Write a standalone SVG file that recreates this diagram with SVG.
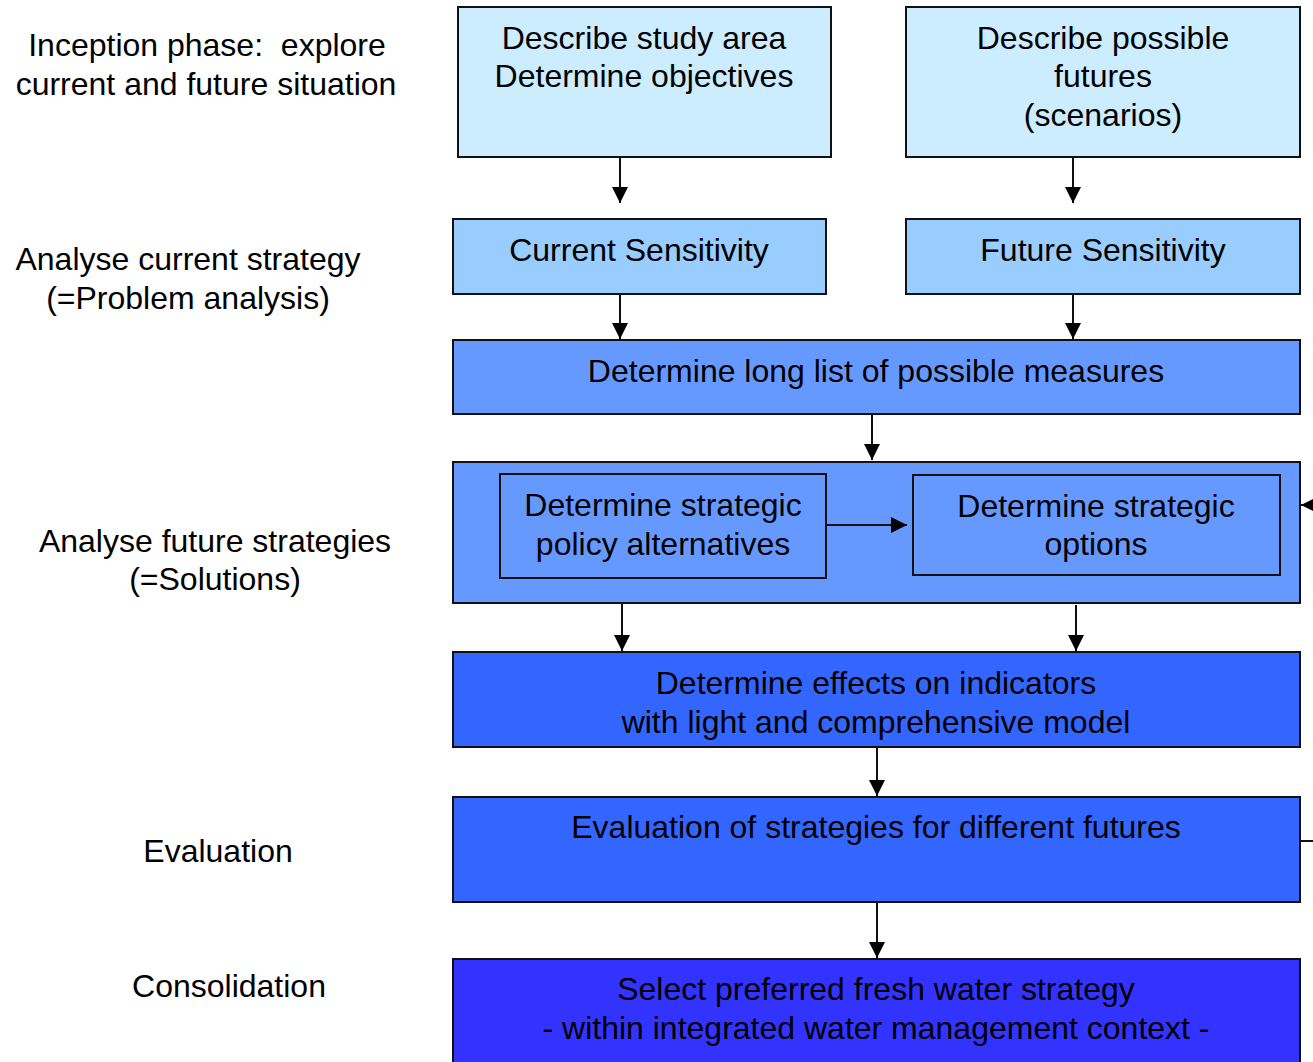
<svg xmlns="http://www.w3.org/2000/svg" width="1313" height="1062" viewBox="0 0 1313 1062">
<style>
text{font-family:"Liberation Sans",Arial,sans-serif;font-size:32px;fill:#000;text-anchor:middle;white-space:pre}
.box{stroke:#111;stroke-width:2}
.c1{fill:#CCECFF}.c2{fill:#99CCFF}.c3{fill:#6699FF}.c4{fill:#3366FF}.c5{fill:#3333FF}
.con{stroke:#111;stroke-width:2;fill:none;marker-end:url(#ah)}
</style>
<defs>
<marker id="ah" markerUnits="userSpaceOnUse" markerWidth="18" markerHeight="16" refX="16" refY="8" orient="auto">
<path d="M0,0 L16,8 L0,16 Z" fill="#000"/>
</marker>
</defs>
<rect width="1313" height="1062" fill="#fff"/>
<g id="labels">
<text x="207" y="56" xml:space="preserve">Inception phase:  explore</text>
<text x="206" y="95">current and future situation</text>
<text x="188" y="270">Analyse current strategy</text>
<text x="188" y="309">(=Problem analysis)</text>
<text x="215" y="552">Analyse future strategies</text>
<text x="215" y="590">(=Solutions)</text>
<text x="218" y="862">Evaluation</text>
<text x="229" y="997">Consolidation</text>
</g>
<g id="n-study">
<rect class="box c1" x="458" y="7" width="373" height="150"/>
<text x="644" y="49">Describe study area</text>
<text x="644" y="87">Determine objectives</text>
</g>
<g id="n-futures">
<rect class="box c1" x="906" y="7" width="394" height="150"/>
<text x="1103" y="49">Describe possible</text>
<text x="1103" y="87">futures</text>
<text x="1103" y="126">(scenarios)</text>
</g>
<g id="n-cursens">
<rect class="box c2" x="453" y="219" width="373" height="75"/>
<text x="639" y="261">Current Sensitivity</text>
</g>
<g id="n-futsens">
<rect class="box c2" x="906" y="219" width="394" height="75"/>
<text x="1103" y="261">Future Sensitivity</text>
</g>
<g id="n-longlist">
<rect class="box c3" x="453" y="340" width="847" height="74"/>
<text x="876" y="382">Determine long list of possible measures</text>
</g>
<g id="n-strategies">
<rect class="box c3" x="453" y="462" width="847" height="141"/>
</g>
<g id="n-policy">
<rect class="box c3" x="500" y="474" width="326" height="104"/>
<text x="663" y="516">Determine strategic</text>
<text x="663" y="555">policy alternatives</text>
</g>
<g id="n-options">
<rect class="box c3" x="913" y="475" width="367" height="100"/>
<text x="1096" y="517">Determine strategic</text>
<text x="1096" y="555">options</text>
</g>
<g id="n-effects">
<rect class="box c4" x="453" y="652" width="847" height="95"/>
<text x="876" y="694">Determine effects on indicators</text>
<text x="876" y="733">with light and comprehensive model</text>
</g>
<g id="n-eval">
<rect class="box c4" x="453" y="797" width="847" height="105"/>
<text x="876" y="838">Evaluation of strategies for different futures</text>
</g>
<g id="n-select">
<rect class="box c5" x="453" y="959" width="847" height="110"/>
<text x="876" y="1000">Select preferred fresh water strategy</text>
<text x="876" y="1039">- within integrated water management context -</text>
</g>
<g id="connectors">
<path class="con" d="M620,157 V203"/>
<path class="con" d="M1073,157 V203"/>
<path class="con" d="M620,294 V339"/>
<path class="con" d="M1073,294 V339"/>
<path class="con" d="M872,414 V460"/>
<path class="con" d="M826,525 H907"/>
<path class="con" d="M622,603 V651"/>
<path class="con" d="M1076,605 V651"/>
<path class="con" d="M877,747 V796"/>
<path class="con" d="M877,902 V958"/>
<path d="M1300,841 H1320" stroke="#111" stroke-width="2" fill="none"/>
<path class="con" d="M1330,505 H1301"/>
</g>
</svg>
